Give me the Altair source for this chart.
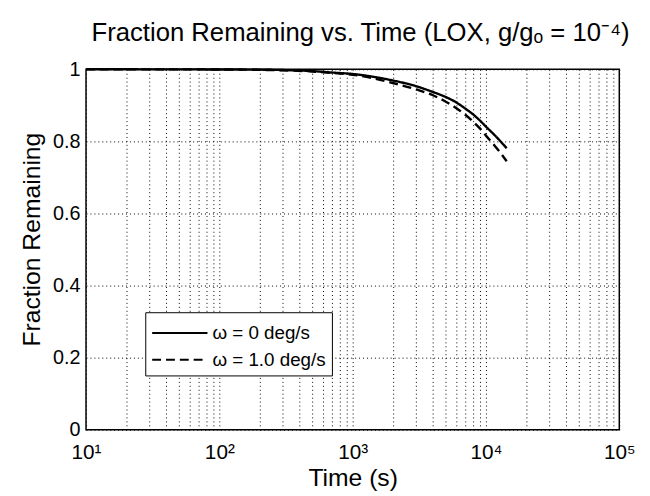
import altair as alt
import pandas as pd

time_s = [10, 20, 50, 100, 200, 300, 500, 700, 1000, 2000, 3000, 4000, 5000,
          6000, 7000, 8000, 9000, 10000, 12000, 14300]
frac_w0 = [1.0, 1.0, 0.9998, 0.9995, 0.999, 0.998, 0.995, 0.991, 0.987, 0.969,
           0.953, 0.937, 0.923, 0.908, 0.891, 0.875, 0.858, 0.841, 0.812, 0.781]
frac_w1 = [1.0, 1.0, 0.9998, 0.9995, 0.9985, 0.997, 0.994, 0.990, 0.985, 0.962,
           0.944, 0.928, 0.910, 0.892, 0.874, 0.855, 0.836, 0.816, 0.782, 0.745]
series = ["\u03c9 = 0 deg/s", "\u03c9 = 1.0 deg/s"]

x_ticks = [m * 10 ** e for e in range(1, 5) for m in range(1, 10)] + [100000]
y_ticks = [0, 0.2, 0.4, 0.6, 0.8, 1.0]

rows = []
for t, a, b in zip(time_s, frac_w0, frac_w1):
    rows.append({"t": t, "f": a, "s": series[0]})
    rows.append({"t": t, "f": b, "s": series[1]})
df = pd.DataFrame(rows)

font = "Liberation Sans"

label_expr = ("datum.value === 10 ? '10\u00b9' : datum.value === 100 ? '10\u00b2' : "
              "datum.value === 1000 ? '10\u00b3' : datum.value === 10000 ? '10\u2074' : "
              "datum.value === 100000 ? '10\u2075' : ''")

chart = alt.Chart(df).mark_line(color="black", strokeWidth=2.4, interpolate="monotone").encode(
    x=alt.X("t:Q", scale=alt.Scale(type="log", domain=[10, 100000], nice=False),
            axis=alt.Axis(title="Time (s)", values=x_ticks, labelExpr=label_expr,
                          labelOverlap=False, labelFlush=False, ticks=False,
                          grid=True, gridColor="black", gridDash=[1, 3], gridWidth=1,
                          gridOpacity=1, domain=False, labelFont=font, labelFontSize=21,
                          labelColor="black", labelPadding=12, titleFont=font,
                          titleFontSize=25, titleFontWeight="normal", titleColor="black",
                          titlePadding=3)),
    y=alt.Y("f:Q", scale=alt.Scale(domain=[0, 1], nice=False),
            axis=alt.Axis(title="Fraction Remaining", values=y_ticks, format="~g",
                          ticks=False, grid=True, gridColor="black", gridDash=[1, 3],
                          gridWidth=1, gridOpacity=1, domain=False, labelFont=font,
                          labelFontSize=20, labelColor="black", labelPadding=6,
                          titleFont=font, titleFontSize=25, titleFontWeight="normal",
                          titleColor="black", titlePadding=8, titleY=172)),
    strokeDash=alt.StrokeDash("s:N", scale=alt.Scale(domain=series, range=[[1, 0], [9, 5]]),
                              legend=alt.Legend(title=None, orient="none", legendX=60,
                                                legendY=246, fillColor="white",
                                                strokeColor="black", padding=6,
                                                symbolType="M-1,0H3", symbolSize=784,
                                                symbolStrokeColor="black",
                                                symbolStrokeWidth=2, labelFont=font,
                                                labelFontSize=19, labelColor="black",
                                                rowPadding=2, labelOffset=32)),
).properties(
    width=540, height=365,
    title=alt.TitleParams("Fraction Remaining vs. Time (LOX, g/g\u2092 = 10\u207b\u2074)",
                          font=font, fontSize=26, fontWeight="normal", color="black",
                          offset=14, dx=8),
    padding={"left": 79, "top": 59, "right": 23, "bottom": 64},
    autosize="none",
).configure_view(stroke="black", strokeWidth=1.5)

chart.save("out.html", embed_options={"renderer": "svg", "actions": False})
